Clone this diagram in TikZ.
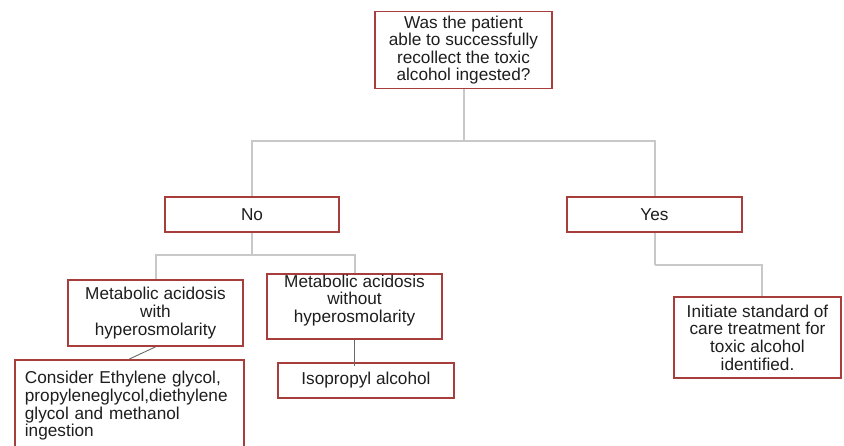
\documentclass[tikz,border=0pt]{standalone}
\usepackage{fontspec}
\setmainfont{Liberation Sans}
\usetikzlibrary{calc}
\definecolor{boxred}{RGB}{168,62,60}
\definecolor{connlight}{RGB}{200,200,200}
\definecolor{conndark}{RGB}{105,105,105}
\definecolor{txt}{RGB}{30,30,30}
\tikzset{
  box/.style={draw=boxred, line width=1.8pt, fill=white, rectangle, inner sep=0pt, align=center,
    font=\fontsize{17.2}{17.6}\selectfont, text=txt},
  conn/.style={draw=connlight, line width=2pt},
  conndk/.style={draw=conndark, line width=0.9pt},
}
\begin{document}
\begin{tikzpicture}[x=1pt,y=-1pt]
\useasboundingbox[fill=white] (0,0) rectangle (844,446);
\coordinate (qj) at (463.5,141);
\coordinate (nj) at (252,255);
\coordinate (yj) at (654.5,265);
% nodes
\node[box, minimum width=177pt, minimum height=77pt] (q) at (463.5,50) {Was the patient\\able to successfully\\recollect the toxic\\alcohol ingested?};
\node[box, minimum width=174pt, minimum height=35pt] (no) at (252,214.5) {No};
\node[box, minimum width=175pt, minimum height=35pt] (yes) at (654.5,214.5) {Yes};
\node[box, minimum width=175pt, minimum height=66pt] (mwith) at (155.5,313) {Metabolic acidosis\\with\\hyperosmolarity};
\node[box, minimum width=175pt, minimum height=65pt] (mwo) at (354.5,306.5) {Metabolic acidosis\\without\\hyperosmolarity\\[-2pt]~};
\node[box, minimum width=176pt, minimum height=35pt] (iso) at (366,380.5) {Isopropyl alcohol};
\node[box, minimum width=167pt, minimum height=81pt] (init) at (757.5,337.5) {Initiate standard of\\care treatment for\\toxic alcohol\\identified.};
\node[box, align=left, anchor=north west, text width=209pt, inner xsep=10pt, inner ysep=11pt, minimum height=92pt] (cons) at (14,359) {Consider Ethylene glycol,\\propyleneglycol,diethylene\\glycol and methanol\\ingestion};
% connectors
\draw[conn] (q.south) -- (qj);
\draw[conn] (qj) -| (no.north);
\draw[conn] (qj) -| (yes.north);
\draw[conn] (no.south) -- (nj);
\draw[conn] (nj) -| (mwith.north);
\draw[conn] (nj) -| (mwo.north);
\draw[conn] (yes.south) -- (yj);
\draw[conn] (yj) -| ([xshift=4.5pt]init.north);
\draw[conndk] (mwith.south) -- (cons.north);
\draw[conndk] (mwo.south) -- ([yshift=-4pt]mwo.south |- iso.north);
\end{tikzpicture}
\end{document}
